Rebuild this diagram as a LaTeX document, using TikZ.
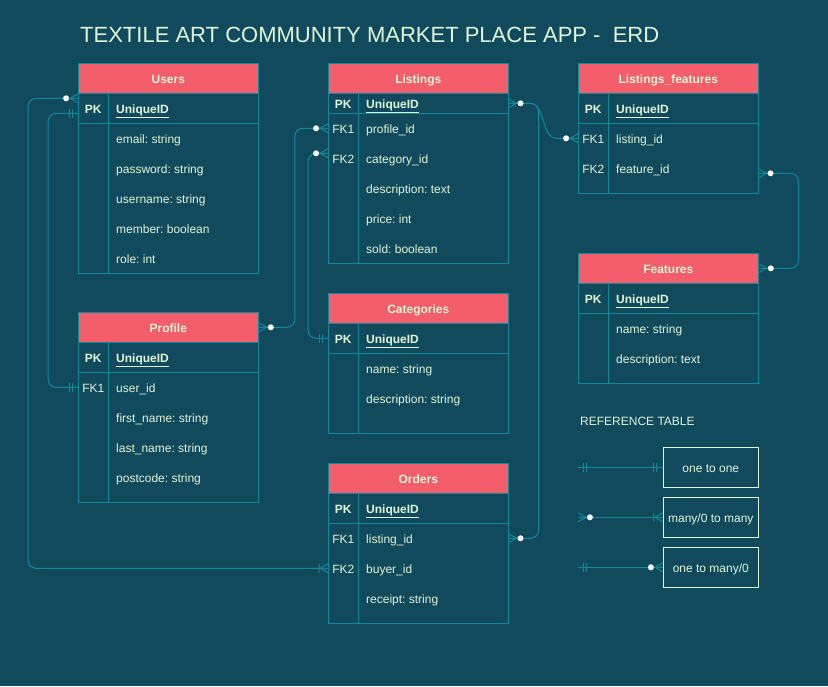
\documentclass[tikz,border=0pt]{standalone}
\usepackage{fontspec}
\setmainfont{Liberation Sans}
\usetikzlibrary{calc}
\frenchspacing

\definecolor{erdbg}{HTML}{124A5D}
\definecolor{erdline}{HTML}{108A98}
\definecolor{erdhead}{HTML}{F45E6C}
\definecolor{erdtext}{HTML}{DEF5D7}

% #1 name, #2 left, #3 top, #4 title, #5 pk row height, #6 bottom, #7 key/field list
\newcommand{\erdtable}[7]{%
  \node[hdr] (#1) at (#2+90,#3+15) {#4};
  \draw[tbl] (#2,#3+30) rectangle (#2+180,#6);
  \draw[tbl] (#2+30,#3+30) -- (#2+30,#6);
  \draw[tbl] (#2,#3+30+#5) -- (#2+180,#3+30+#5);
  \node[rowbox,minimum height=#5] (#1-pk) at (#2+90,#3+30+#5/2) {};
  \node[key,font=\erdfont\bfseries] (#1-pkkey) at (#2+15,#3+30+#5/2) {PK};
  \node[fld,font=\erdfont\bfseries] (#1-id) at (#2+37.7,#3+30+#5/2) {\underline{UniqueID}};
  \foreach \k/\t [count=\i] in {#7} {
    \node[rowbox] (#1-r\i) at (#2+90,#3+30+#5+30*\i-15) {};
    \node[key] (#1-k\i) at (#2+15,#3+30+#5+30*\i-15) {\k};
    \node[fld] (#1-f\i) at (#2+37.7,#3+30+#5+30*\i-15) {\t};
  }
}
\newcommand{\erdfont}{\fontsize{12}{14}\selectfont}
% line end marks: #1 point on the edge, #2 = 1 (outward right) or -1 (outward left)
\newcommand{\manyend}[2]{%
  \draw[link] ($(#1)+(#2*8,0)$) -- ($(#1)+(0,-4.5)$)
              ($(#1)+(#2*8,0)$) -- ($(#1)+(0,4.5)$);
  \fill[white] ($(#1)+(#2*12,0)$) circle (3);
}
\newcommand{\oneend}[2]{%
  \draw[link] ($(#1)+(#2*6,-4.5)$) -- ++(0,9)
              ($(#1)+(#2*9,-4.5)$) -- ++(0,9);
}
\newcommand{\onemanyend}[2]{%
  \draw[link] ($(#1)+(#2*8,0)$) -- ($(#1)+(0,-4.5)$)
              ($(#1)+(#2*8,0)$) -- ($(#1)+(0,4.5)$)
              ($(#1)+(#2*9,-4.5)$) -- ++(0,9);
}

\begin{document}
\begin{tikzpicture}[x=1pt,y=-1pt,
  link/.style={draw=erdline,line width=1pt},
  tbl/.style={draw=erdline,line width=1pt},
  hdr/.style={draw=erdline,line width=1pt,fill=erdhead,minimum width=180,minimum height=30,
    inner sep=0,text height=10,text depth=0,text=erdtext,font=\erdfont\bfseries},
  rowbox/.style={minimum width=180,minimum height=30,inner sep=0},
  key/.style={text=erdtext,inner sep=0,text height=10,text depth=0,font=\erdfont},
  fld/.style={key,anchor=west},
  legbox/.style={draw=erdtext,line width=0.8pt,minimum width=95,minimum height=40,
    inner sep=0,text height=10,text depth=0,text=erdtext,font=\erdfont}]
  \path[use as bounding box,fill=erdbg] (0,0) rectangle (828,686);

  \node[anchor=base west,inner sep=0,text=erdtext,font=\fontsize{22}{26}\selectfont] (title)
    at (80,42) {TEXTILE ART COMMUNITY MARKET PLACE APP -\ \ ERD};

  % tables
  \erdtable{users}{78.3}{63.3}{Users}{30}{273.3}{{}/email: string,{}/password: string,{}/username: string,{}/member: boolean,{}/role: int}
  \erdtable{profile}{78.3}{312.3}{Profile}{30}{502.3}{FK1/user\_id,{}/first\_name: string,{}/last\_name: string,{}/postcode: string}
  \erdtable{listings}{328.3}{63.3}{Listings}{20}{263.3}{FK1/profile\_id,FK2/category\_id,{}/description: text,{}/price: int,{}/sold: boolean}
  \erdtable{categories}{328.3}{293.3}{Categories}{30}{433.3}{{}/name: string,{}/description: string}
  \erdtable{orders}{328.3}{463.3}{Orders}{30}{623.3}{FK1/listing\_id,FK2/buyer\_id,{}/receipt: string}
  \erdtable{lfeat}{578.3}{63.3}{Listings\_features}{30}{193.3}{FK1/listing\_id,FK2/feature\_id}
  \erdtable{features}{578.3}{253.3}{Features}{30}{383.3}{{}/name: string,{}/description: text}

  % relations
  \coordinate (uo-a) at ($(users-pk.west)+(0,-10)$);
  \coordinate (up-a) at ($(users-pk.west)+(0,5)$);
  \coordinate (cl-b) at ($(listings-r2.west)+(0,-5)$);
  \coordinate (lf-a) at ($(lfeat-r2.east)+(0,5)$);
  \coordinate (s1) at ($(listings-pk.east)+(22,0)$);
  \coordinate (s2) at ($(lfeat-r1.west)+(-22,0)$);

  \draw[link,rounded corners=8] (uo-a) -- ++(-50,0) |- (orders-r2.west);
  \draw[link,rounded corners=8] (up-a) -- ++(-30,0) |- (profile-r1.west);
  \draw[link,rounded corners=8] (profile.east) -- ++(36,0) |- (listings-r1.west);
  \draw[link,rounded corners=8] (categories-pk.west) -- ++(-20,0) |- (cl-b);
  \draw[link,rounded corners=8] (listings-pk.east) -- ++(30,0) |- (orders-r1.east);
  \draw[link] (listings-pk.east) -- (s1) .. controls ($(s1)+(14,0)$) and ($(s2)+(-14,0)$) .. (s2) -- (lfeat-r1.west);
  \draw[link,rounded corners=8] (lf-a) -- ++(40,0) |- (features.east);

  \manyend{uo-a}{-1}
  \onemanyend{orders-r2.west}{-1}
  \oneend{up-a}{-1}
  \oneend{profile-r1.west}{-1}
  \manyend{profile.east}{1}
  \manyend{listings-r1.west}{-1}
  \oneend{categories-pk.west}{-1}
  \manyend{cl-b}{-1}
  \manyend{listings-pk.east}{1}
  \manyend{orders-r1.east}{1}
  \manyend{lfeat-r1.west}{-1}
  \manyend{lf-a}{1}
  \manyend{features.east}{1}

  % reference table
  \node[anchor=west,inner sep=0,text height=10,text depth=0,text=erdtext,font=\erdfont] (reftitle) at (580,420.3) {REFERENCE TABLE};
  \node[legbox] (oneone) at (710.8,467.3) {one to one};
  \node[legbox] (manymany) at (710.8,517.3) {many/0 to many};
  \node[legbox] (onemany) at (710.8,567.3) {one to many/0};
  \coordinate (oneone-a) at ($(oneone.west)+(-85,0)$);
  \coordinate (manymany-a) at ($(manymany.west)+(-85,0)$);
  \coordinate (onemany-a) at ($(onemany.west)+(-85,0)$);
  \draw[link] (oneone-a) -- (oneone.west);
  \draw[link] (manymany-a) -- (manymany.west);
  \draw[link] (onemany-a) -- (onemany.west);
  \oneend{oneone-a}{1}
  \oneend{oneone.west}{-1}
  \manyend{manymany-a}{1}
  \onemanyend{manymany.west}{-1}
  \oneend{onemany-a}{1}
  \manyend{onemany.west}{-1}
\end{tikzpicture}
\end{document}
